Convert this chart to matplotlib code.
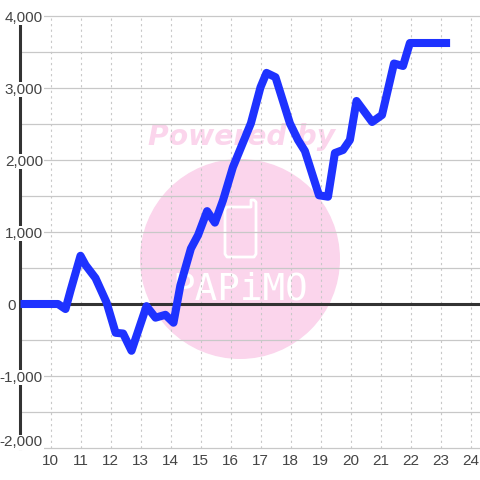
import matplotlib
matplotlib.use('Agg')
import matplotlib.pyplot as plt
from matplotlib.patches import Circle

plt.rcParams['font.family'] = ['Liberation Sans', 'DejaVu Sans']

# values
hours = [9.0, 10.25, 10.5, 10.67, 11.0, 11.17, 11.5, 11.87, 12.17, 12.42, 12.7,
         13.2, 13.5, 13.83, 14.1, 14.33, 14.68, 14.92, 15.22, 15.48, 15.75,
         16.08, 16.68, 17.0, 17.2, 17.5, 17.98, 18.25, 18.48, 18.95, 19.25,
         19.48, 19.75, 19.98, 20.2, 20.72, 21.05, 21.45, 21.75, 21.98, 23.32]
profit = [0, 0, -70, 190, 670, 540, 360, 20, -400, -410, -650,
          -30, -190, -150, -260, 260, 770, 958, 1290, 1130, 1440,
          1900, 2510, 3010, 3210, 3150, 2510, 2278, 2125, 1510, 1490,
          2097, 2139, 2278, 2820, 2528, 2625, 3340, 3306, 3625, 3625]

x_ticks = [10, 11, 12, 13, 14, 15, 16, 17, 18, 19, 20, 21, 22, 23, 24]
y_ticks = [-2000, -1000, 0, 1000, 2000, 3000, 4000]
y_minor = [-1500, -500, 500, 1500, 2500, 3500]
y_labels = ['-2,000', '-1,000', '0', '1,000', '2,000', '3,000', '4,000']

W = 480
fig = plt.figure(figsize=(4.8, 4.8), dpi=100)

# watermark sits behind the chart, in pixel coordinates
bg = fig.add_axes([0, 0, 1, 1], zorder=0)
bg.set_xlim(0, W)
bg.set_ylim(W, 0)
bg.axis('off')
pink = '#fbd5ec'
bg.add_patch(Circle((240, 259), 100, color=pink, lw=0))
bg.plot([225, 225, 227, 254, 256, 256, 254, 251, 251, 227, 225],
        [209, 254, 257, 257, 254, 202, 200, 200, 207, 207, 209],
        color='white', lw=2, solid_joinstyle='round')
bg.text(241.5, 137, 'Powered by', color=pink, fontsize=20.3, fontweight='bold',
        fontstyle='italic', ha='center', va='center', family=['DejaVu Sans'])
bg.text(240, 290, 'PAPiMO', color='white', fontsize=27, ha='center', va='center',
        family=['DejaVu Sans Mono'])

# chart axes: 30 px per hour, 72 px per 1,000
ax = fig.add_axes([20 / W, 32 / W, 460 / W, 432 / W], zorder=1)
ax.patch.set_visible(False)
ax.set_xlim(10 - 30.5 / 30, 10 + 429.5 / 30)
ax.set_ylim(-2000, 4000)
for s in ['top', 'right', 'bottom']:
    ax.spines[s].set_visible(False)
ax.spines['left'].set_color('#333333')
ax.spines['left'].set_linewidth(2.2)

ax.set_xticks(x_ticks)
ax.set_yticks(y_ticks)
ax.set_yticks(y_minor, minor=True)
ax.set_yticklabels([])
ax.tick_params(axis='y', which='both', length=0)
ax.tick_params(axis='x', length=0, pad=4, labelsize=11, labelcolor='#444444')
ax.grid(True, axis='x', color='#c8c8c8', lw=0.8, ls=(0, (2, 3)))
ax.grid(True, axis='y', which='both', color='#c8c8c8', lw=0.9)
ax.set_axisbelow(True)
for line in ax.get_ygridlines():
    line.set_clip_on(False)

ax.axhline(0, color='#333333', lw=2.2, zorder=2)

for v, lab in zip(y_ticks, y_labels):
    right = 16 if v == 0 else 43
    off = 7 if v == -2000 else 0
    ax.annotate(lab, (0, v), xycoords=ax.get_yaxis_transform(),
                xytext=(right - 20, off), textcoords='offset pixels',
                ha='right', va='center_baseline', fontsize=11, color='#444444', zorder=3,
                annotation_clip=False,
                bbox=dict(fc='white', ec='none', pad=0.5))

ax.plot(hours, profit, color='#1e32ff', lw=5.8, solid_joinstyle='round',
        solid_capstyle='butt', zorder=4, clip_on=False)

fig.savefig('out.png', dpi=100)
